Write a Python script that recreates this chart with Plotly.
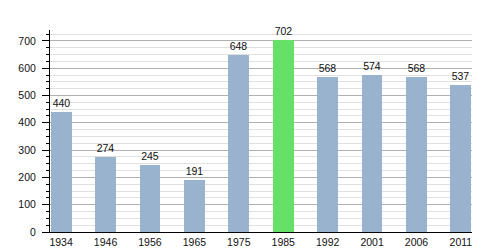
import plotly.graph_objects as go

years = ["1934", "1946", "1956", "1965", "1975", "1985", "1992", "2001", "2006", "2011"]
population = [440, 274, 245, 191, 648, 702, 568, 574, 568, 537]
highlight_year = "1985"

blue = "#99b3cf"
green = "#66e066"
colors = [green if y == highlight_year else blue for y in years]

FONT = "Liberation Sans, Arial, sans-serif"

fig = go.Figure(go.Bar(
    x=list(range(len(years))),
    y=population,
    marker=dict(color=colors, line=dict(width=0)),
    width=0.47,
    text=[str(v) for v in population],
    textposition="outside",
    textfont=dict(family=FONT, size=10.5, color="#111"),
    cliponaxis=False,
))

fig.update_layout(
    width=500, height=250,
    margin=dict(l=50, r=28, t=30, b=18),
    plot_bgcolor="white", paper_bgcolor="white",
    showlegend=False,
    font=dict(family=FONT, size=10, color="#111"),
    bargap=0,
)
fig.update_xaxes(
    range=[-0.25, 9.25],
    tickmode="array",
    tickvals=list(range(len(years))),
    ticktext=years,
    showgrid=False,
    showline=True, linecolor="black", linewidth=1,
    ticks="", zeroline=False,
    tickfont=dict(size=10.5),
    automargin=False,
)
fig.update_yaxes(
    range=[0, 740],
    dtick=100, tick0=0,
    showgrid=True, gridcolor="#b0b0b0", gridwidth=1,
    showline=True, linecolor="black", linewidth=1,
    ticks="outside", ticklen=7, tickcolor="black",
    ticklabelstandoff=4,
    minor=dict(dtick=25, showgrid=True, gridcolor="#e0e0e0",
               ticks="outside", ticklen=3, tickcolor="black"),
    zeroline=False,
    tickfont=dict(size=10.5),
    automargin=False,
)

fig.write_html("out.html")
